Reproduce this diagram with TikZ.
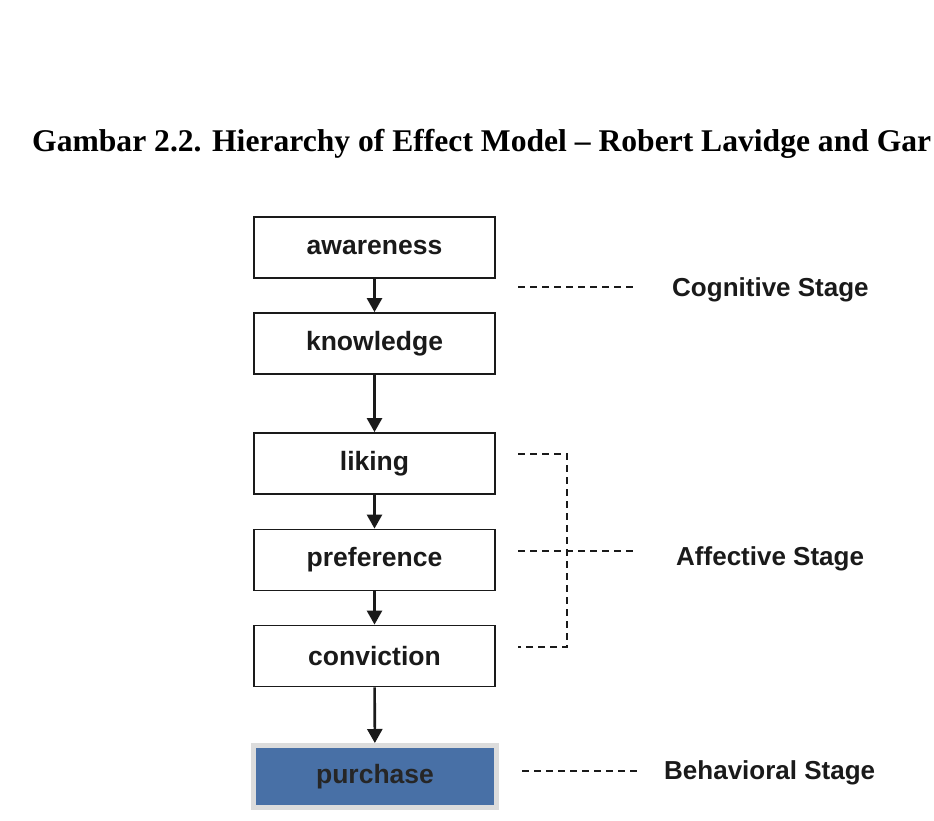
\documentclass[tikz,border=0pt]{standalone}
\usepackage{fontspec}
\setmainfont{Liberation Serif}
\setsansfont{Liberation Sans}
\usetikzlibrary{arrows.meta}

\begin{document}
\begin{tikzpicture}[x=1pt,y=-1pt]

\definecolor{lcolor}{HTML}{1A1A1A}
\definecolor{pcolor}{HTML}{4870A6}
\definecolor{fcolor}{HTML}{DCDCDC}

\tikzstyle{stagebox}=[draw=lcolor, line width=1.8pt, fill=white, minimum width=241pt, minimum height=61pt, font=\sffamily\bfseries\fontsize{26.5}{30}\selectfont, text=lcolor]
\tikzstyle{buybox}=[stagebox, draw=fcolor, line width=5pt, fill=pcolor, minimum width=243pt, minimum height=62pt, text=black!85]
\tikzstyle{arrow}=[line width=2.6pt, color=lcolor, -{Triangle[length=14pt,width=15pt]}]
\tikzstyle{dline}=[line width=1.6pt, color=lcolor, dash pattern=on 7pt off 5pt]
\tikzstyle{stagetext}=[anchor=west, inner sep=0pt, font=\sffamily\bfseries\fontsize{26}{30}\selectfont, text=lcolor]

\useasboundingbox (0,0) rectangle (934,821);
\clip (0,0) rectangle (934,821);

% title
\node[anchor=base west, inner sep=0pt, font=\bfseries\fontsize{31.6}{36}\selectfont] (title) at (32,152)
    {Gambar 2.2. Hierarchy of Effect Model -- Robert Lavidge and Gar};

% steps
\node[stagebox] (awareness)  at (374.5,247.5) {awareness};
\node[stagebox] (knowledge)  at (374.5,343.5) {knowledge};
\node[stagebox] (liking)     at (374.5,463.5) {liking};
\node[stagebox] (preference) at (374.5,560)   {preference};
\node[stagebox] (conviction) at (374.5,656)   {conviction};
\node[buybox]   (purchase)   at (375,776.5)   {purchase};

\draw[arrow] (awareness) -- (knowledge);
\draw[arrow] (knowledge) -- (liking);
\draw[arrow] (liking) -- (preference);
\draw[arrow] (preference) -- (conviction);
\draw[arrow] (conviction) -- (purchase);

% stages
\coordinate (c1) at (518,287);
\coordinate (c2) at (637,287);
\node[stagetext] (cognitive) at (672,290) {Cognitive Stage};
\draw[dline] (c1) -- (c2);

\coordinate (a1) at (518,454);
\coordinate (a2) at (567,454);
\coordinate (a3) at (567,647);
\coordinate (a4) at (518,647);
\coordinate (a5) at (518,551);
\coordinate (a6) at (637,551);
\node[stagetext] (affective) at (676,559) {Affective Stage};
\draw[dline] (a1) -- (a2) -- (a3) -- (a4);
\draw[dline] (a5) -- (a6);

\coordinate (b1) at (522,771);
\coordinate (b2) at (638,771);
\node[stagetext] (behavioral) at (664,773) {Behavioral Stage};
\draw[dline] (b1) -- (b2);

\end{tikzpicture}
\end{document}
